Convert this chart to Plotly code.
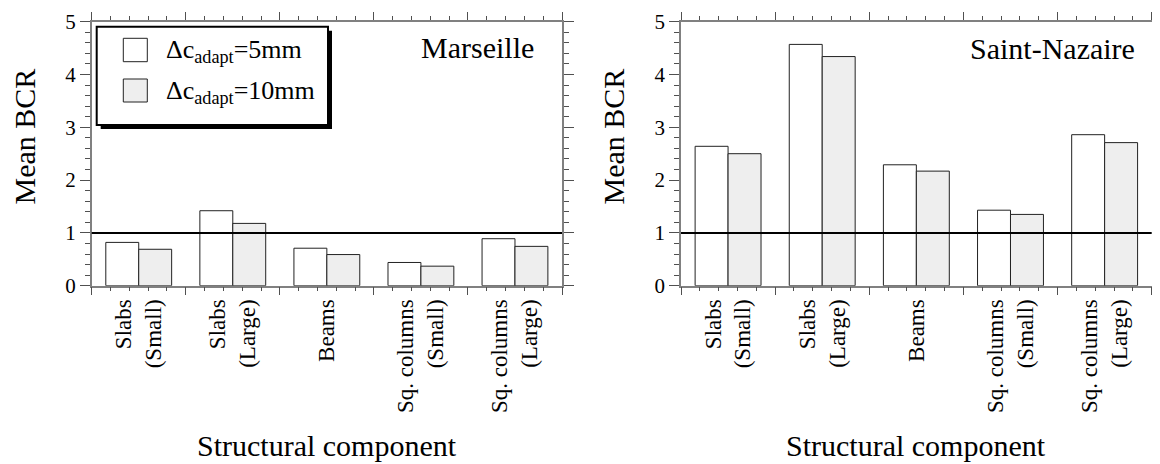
import plotly.graph_objects as go

W, H = 1160, 464
OFF = 8  # page body margin offset
FONT = "Liberation Serif"

# ---------------- data ----------------
categories = ["Slabs<br>(Small)", "Slabs<br>(Large)", "Beams",
              "Sq. columns<br>(Small)", "Sq. columns<br>(Large)"]
positions = [0, 1, 2, 3, 4]
series_names = ["\u0394c<sub>adapt</sub>=5mm", "\u0394c<sub>adapt</sub>=10mm"]
marseille_5mm = [0.82, 1.42, 0.71, 0.44, 0.89]
marseille_10mm = [0.69, 1.18, 0.59, 0.37, 0.745]
stnazaire_5mm = [2.64, 4.57, 2.29, 1.43, 2.86]
stnazaire_10mm = [2.50, 4.34, 2.17, 1.35, 2.71]
panel_titles = ["Marseille", "Saint-Nazaire"]
y_ticks = [0, 1, 2, 3, 4, 5]
threshold = 1.0

# ---------------- helpers ----------------
def px(x):
    return (x - OFF) / W

def py(y):
    return 1 - (y - OFF) / H

fills = ["white", "#eeeeee"]
edge = "#222222"

fig = go.Figure()
panels = [("x", "y", marseille_5mm, marseille_10mm),
          ("x2", "y2", stnazaire_5mm, stnazaire_10mm)]
for xa, ya, v5, v10 in panels:
    for k, vals in enumerate([v5, v10]):
        fig.add_trace(go.Bar(
            x=positions, y=vals, xaxis=xa, yaxis=ya,
            name=series_names[k], offsetgroup=str(k),
            marker=dict(color=fills[k], line=dict(color=edge, width=1)),
            showlegend=False, hoverinfo="skip"))
# invisible anchors for label axes
for xa, ya in [("x3", "y"), ("x4", "y2")]:
    fig.add_trace(go.Scatter(x=[0], y=[0], xaxis=xa, yaxis=ya, mode="markers",
                             marker=dict(opacity=0), showlegend=False, hoverinfo="skip"))

ydom = [py(285.7), py(21.7)]
xdom1 = [px(91.7), px(562.0)]
xdom2 = [px(681.0), px(1151.7)]

line_col = "#808080"
tick_col = "#505050"

def xbase(domain, anchor):
    return dict(domain=domain, anchor=anchor, range=[-0.5, 4.5], automargin=False,
                tickmode="linear", tick0=-0.5, dtick=1,
                ticks="outside", ticklen=8, tickwidth=1.3, tickcolor=tick_col,
                showticklabels=False, showline=True, linecolor=line_col, linewidth=1.5,
                mirror="ticks", showgrid=False, zeroline=False,
                minor=dict(tick0=-0.5, dtick=0.2, ticks="outside", ticklen=4,
                           tickwidth=1.2, tickcolor=tick_col, showgrid=False))

def xlabels(over, anchor):
    return dict(overlaying=over, anchor=anchor, range=[-0.5, 4.5], side="bottom",
                automargin=False,
                tickmode="array", tickvals=positions, ticktext=categories,
                tickangle=-90, ticks="", showline=False, showgrid=False,
                zeroline=False, ticklabelstandoff=8,
                tickfont=dict(family=FONT, size=23, color="black"))

def ybase(anchor):
    return dict(domain=ydom, anchor=anchor, range=[0, 5], automargin=False,
                tickmode="array", tickvals=y_ticks,
                ticks="outside", ticklen=10, tickwidth=1.3, tickcolor=tick_col,
                showline=True, linecolor=line_col, linewidth=1.5,
                mirror="ticks", showgrid=False, zeroline=False,
                tickfont=dict(family=FONT, size=21, color="black"),
                minor=dict(dtick=0.2, tick0=0, ticks="outside", ticklen=5,
                           tickwidth=1.2, tickcolor=tick_col, showgrid=False))

fig.update_layout(
    width=W, height=H, autosize=False,
    margin=dict(l=0, r=0, t=0, b=0, pad=0, autoexpand=False),
    paper_bgcolor="white", plot_bgcolor="white",
    barmode="group", bargap=0.3, bargroupgap=0,
    font=dict(family=FONT, color="black"),
    xaxis=xbase(xdom1, "y"), xaxis2=xbase(xdom2, "y2"),
    xaxis3=xlabels("x", "y"), xaxis4=xlabels("x2", "y2"),
    yaxis=ybase("x"), yaxis2=ybase("x2"),
    showlegend=False,
)

shapes = []
for xr, yr in [("x domain", "y"), ("x2 domain", "y2")]:
    shapes.append(dict(type="line", xref=xr, yref=yr, x0=0, x1=1, y0=threshold, y1=threshold,
                       line=dict(color="black", width=2), layer="above"))

# legend box (drawn manually with shadow)
lx0, ly0, lx1, ly1 = 96.7, 26.7, 328.0, 125.0
shapes.append(dict(type="rect", xref="paper", yref="paper",
                   x0=px(lx0 + 4), x1=px(lx1 + 4), y0=py(ly1 + 4), y1=py(ly0 + 4),
                   fillcolor="black", line=dict(width=0), layer="above"))
shapes.append(dict(type="rect", xref="paper", yref="paper",
                   x0=px(lx0), x1=px(lx1), y0=py(ly1), y1=py(ly0),
                   fillcolor="white", line=dict(color="black", width=2), layer="above"))
sw = [(38.3, 61.7), (79.0, 102.0)]
for k, (t, b) in enumerate(sw):
    shapes.append(dict(type="rect", xref="paper", yref="paper",
                       x0=px(123.3), x1=px(147.3), y0=py(b), y1=py(t),
                       fillcolor=fills[k], line=dict(color=edge, width=1), layer="above"))
fig.update_layout(shapes=shapes)

ann = []
ann.append(dict(text=panel_titles[0], xref="paper", yref="paper", x=px(536), y=py(47),
                xanchor="right", yanchor="middle", showarrow=False,
                font=dict(family=FONT, size=30, color="black")))
ann.append(dict(text=panel_titles[1], xref="paper", yref="paper", x=px(1137), y=py(48),
                xanchor="right", yanchor="middle", showarrow=False,
                font=dict(family=FONT, size=30, color="black")))
for cx in [24.5, 613.5]:
    ann.append(dict(text="Mean BCR", xref="paper", yref="paper", x=px(cx), y=py(137),
                    xanchor="center", yanchor="middle", textangle=-90, showarrow=False,
                    font=dict(family=FONT, size=30, color="black")))
for cx in [326.8, 916.4]:
    ann.append(dict(text="Structural component", xref="paper", yref="paper", x=px(cx), y=py(445),
                    xanchor="center", yanchor="middle", showarrow=False,
                    font=dict(family=FONT, size=30, color="black")))
for k, (t, b) in enumerate(sw):
    ann.append(dict(text=series_names[k], xref="paper", yref="paper", x=px(164), y=py((t + b) / 2 + 1),
                    xanchor="left", yanchor="middle", showarrow=False,
                    font=dict(family=FONT, size=26, color="black")))
fig.update_layout(annotations=ann)

fig.write_html("out.html")
